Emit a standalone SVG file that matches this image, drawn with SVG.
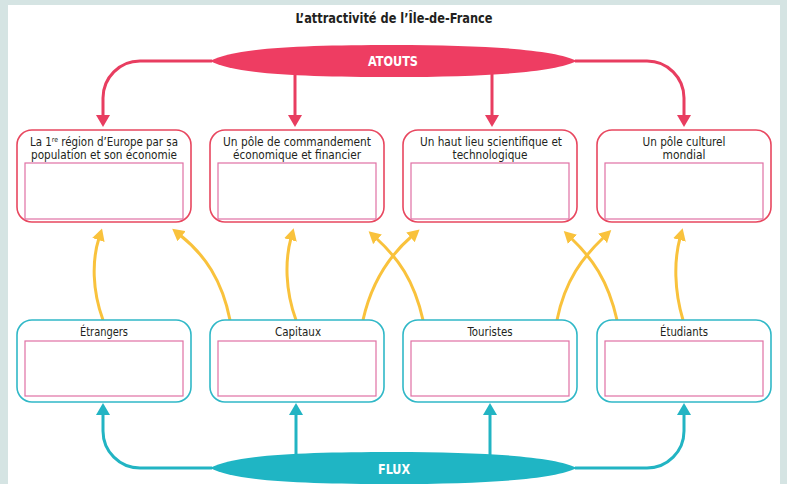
<svg xmlns="http://www.w3.org/2000/svg" width="787" height="484" viewBox="0 0 787 484">
<defs>
<style>
.t{font-family:"DejaVu Sans Condensed","Liberation Sans Narrow","Liberation Sans",sans-serif;font-size:11.8px;fill:#231f20;text-anchor:middle}
.b{font-size:13px}
.ttl{font-family:"DejaVu Sans Condensed","Liberation Sans Narrow","Liberation Sans",sans-serif;font-size:14px;font-weight:bold;fill:#231f20;text-anchor:middle}
.lab{font-family:"DejaVu Sans Condensed","Liberation Sans Narrow","Liberation Sans",sans-serif;font-size:14px;font-weight:bold;fill:#fff;text-anchor:middle}
.top{fill:#fff;stroke:#e8475f;stroke-width:1.6}
.bot{fill:#fff;stroke:#30b8c7;stroke-width:1.6}
.in{fill:#fff;stroke:#e070a4;stroke-width:1.2}
.red{fill:none;stroke:#e83d60;stroke-width:3;marker-end:url(#mr)}
.teal{fill:none;stroke:#22b4c3;stroke-width:3;marker-end:url(#mt)}
.yel{fill:none;stroke:#f9c23c;stroke-width:3;marker-end:url(#my)}
</style>
<marker id="mr" viewBox="0 0 12 14" refX="2" refY="7" markerWidth="12" markerHeight="14" markerUnits="userSpaceOnUse" orient="auto"><path d="M0,0 L12,7 L0,14 Z" fill="#e83d60"/></marker>
<marker id="mt" viewBox="0 0 12 14" refX="2" refY="7" markerWidth="12" markerHeight="14" markerUnits="userSpaceOnUse" orient="auto"><path d="M0,0 L12,7 L0,14 Z" fill="#22b4c3"/></marker>
<marker id="my" viewBox="0 0 12 13" refX="2" refY="6.5" markerWidth="12" markerHeight="13" markerUnits="userSpaceOnUse" orient="auto"><path d="M0,0 L12,6.5 L0,13 Z" fill="#f9c23c"/></marker>
</defs>
<rect x="0" y="0" width="787" height="484" fill="#d5e4e3"/>
<rect x="8" y="5" width="772" height="479" fill="#fff"/>
<text class="ttl" x="394" y="23" textLength="197" lengthAdjust="spacingAndGlyphs">L’attractivité de l’Île-de-France</text>

<g id="connectors">
<path class="red" d="M212,61 H140 A37,37 0 0 0 103,98 V117"/>
<path class="red" d="M295,70 V117"/>
<path class="red" d="M492,70 V117"/>
<path class="red" d="M575,61 H647 A37,37 0 0 1 684,98 V117"/>
<path class="teal" d="M212,468 H140 A37,37 0 0 1 103,431 V413"/>
<path class="teal" d="M296,460 V413"/>
<path class="teal" d="M490,460 V413"/>
<path class="teal" d="M575,468 H647 A37,37 0 0 0 684,431 V413"/>
<path class="yel" d="M103,320 C92,290 92,260 99,238"/>
<path class="yel" d="M230,320 C222,280 205,255 180,235"/>
<path class="yel" d="M296,320 C285,290 285,260 291,238"/>
<path class="yel" d="M363,320 C372,280 390,255 412,236"/>
<path class="yel" d="M423,320 C414,280 398,258 376,238"/>
<path class="yel" d="M557,320 C565,280 583,257 604,237"/>
<path class="yel" d="M617,320 C608,280 592,258 571,238"/>
<path class="yel" d="M683,320 C674,290 674,260 680,238"/>
</g>

<g id="atouts">
<path d="M210,61 C235,48 300,45 393,45 C490,45 555,50 577,61 C555,72 490,77 393,77 C300,77 235,74 210,61 Z" fill="#ee3d62"/>
<text class="lab" x="393" y="66" textLength="50" lengthAdjust="spacingAndGlyphs">ATOUTS</text>
</g>
<g id="flux">
<path d="M210,468 C235,455 300,452 393,452 C490,452 555,457 577,468 C555,479 490,484 393,484 C300,484 235,481 210,468 Z" fill="#1fb5c4"/>
<text class="lab" x="394" y="474" textLength="32" lengthAdjust="spacingAndGlyphs">FLUX</text>
</g>

<g id="atout1">
<rect class="top" x="17" y="130" width="174" height="92" rx="15"/>
<rect class="in" x="25" y="163" width="158" height="56"/>
<text class="t" x="104" y="145.5" textLength="148" lengthAdjust="spacingAndGlyphs">La 1<tspan font-size="7" dy="-4">re</tspan><tspan dy="4"> région d’Europe par sa</tspan></text>
<text class="t" x="104" y="158.5" textLength="146" lengthAdjust="spacingAndGlyphs">population et son économie</text>
</g>
<g id="atout2">
<rect class="top" x="210" y="130" width="174" height="92" rx="15"/>
<rect class="in" x="218" y="163" width="158" height="56"/>
<text class="t" x="297" y="145.5" textLength="148" lengthAdjust="spacingAndGlyphs">Un pôle de commandement</text>
<text class="t" x="297" y="158.5" textLength="128" lengthAdjust="spacingAndGlyphs">économique et financier</text>
</g>
<g id="atout3">
<rect class="top" x="403" y="130" width="174" height="92" rx="15"/>
<rect class="in" x="411" y="163" width="158" height="56"/>
<text class="t" x="491" y="145.5" textLength="142" lengthAdjust="spacingAndGlyphs">Un haut lieu scientifique et</text>
<text class="t" x="490" y="158.5" textLength="75" lengthAdjust="spacingAndGlyphs">technologique</text>
</g>
<g id="atout4">
<rect class="top" x="597" y="130" width="174" height="92" rx="15"/>
<rect class="in" x="605" y="163" width="158" height="56"/>
<text class="t" x="684" y="145.5" textLength="83" lengthAdjust="spacingAndGlyphs">Un pôle culturel</text>
<text class="t" x="684" y="158.5" textLength="43" lengthAdjust="spacingAndGlyphs">mondial</text>
</g>

<g id="flux1">
<rect class="bot" x="17" y="320" width="174" height="82" rx="15"/>
<rect class="in" x="25" y="341" width="158" height="55"/>
<text class="t b" x="104" y="336" textLength="48" lengthAdjust="spacingAndGlyphs">Étrangers</text>
</g>
<g id="flux2">
<rect class="bot" x="210" y="320" width="174" height="82" rx="15"/>
<rect class="in" x="218" y="341" width="158" height="55"/>
<text class="t b" x="298" y="336" textLength="46" lengthAdjust="spacingAndGlyphs">Capitaux</text>
</g>
<g id="flux3">
<rect class="bot" x="403" y="320" width="174" height="82" rx="15"/>
<rect class="in" x="411" y="341" width="158" height="55"/>
<text class="t b" x="490" y="336" textLength="45" lengthAdjust="spacingAndGlyphs">Touristes</text>
</g>
<g id="flux4">
<rect class="bot" x="597" y="320" width="174" height="82" rx="15"/>
<rect class="in" x="605" y="341" width="158" height="55"/>
<text class="t b" x="684" y="336" textLength="48" lengthAdjust="spacingAndGlyphs">Étudiants</text>
</g>
</svg>
